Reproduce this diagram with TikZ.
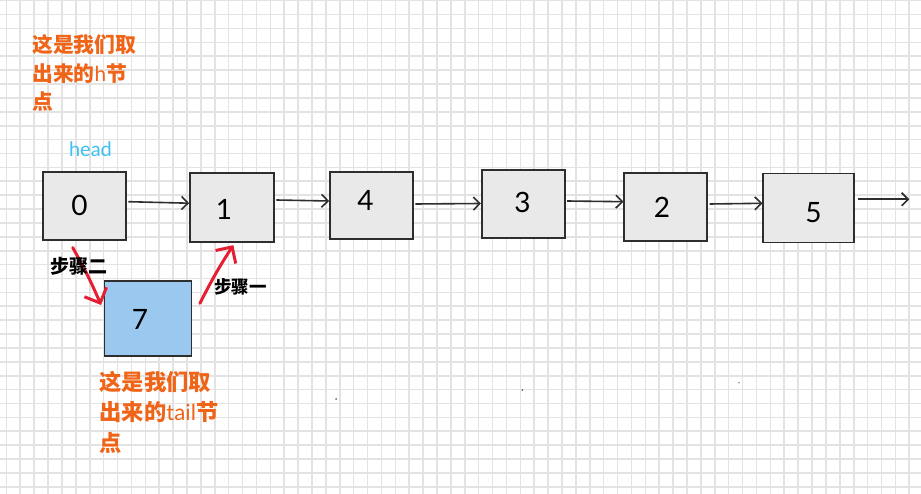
\documentclass[tikz,border=0pt]{standalone}
\usepackage{fontspec}
\setmainfont{Lato}
\newfontfamily\cjk{Noto Sans CJK SC}
\newfontfamily\hand{Lato}
\usetikzlibrary{arrows.meta}
\definecolor{gridc}{HTML}{E3E3E3}
\definecolor{boxfill}{HTML}{E9E9E9}
\definecolor{boxline}{HTML}{2E2E2E}
\definecolor{bluefill}{HTML}{9BC8EE}
\definecolor{orangetxt}{HTML}{F06418}
\definecolor{headc}{HTML}{3EC1F0}
\definecolor{redarr}{HTML}{E61E32}
\tikzset{
  gridline/.style={draw=gridc, line width=1.6pt},
  listbox/.style={draw=boxline, line width=1.7pt, fill=boxfill, rectangle, inner sep=0pt},
  tailbox/.style={listbox, fill=bluefill},
  digit/.style={font=\hand\fontsize{28}{28}\selectfont, inner sep=0pt, text=black},
  nextarr/.style={draw=boxline, line width=1.6pt, -{Straight Barb[length=6.5pt,width=13pt,line width=1.6pt]}},
  steparr/.style={draw=redarr, line width=3pt, line cap=round, -{Straight Barb[length=12pt,width=24pt,line width=3pt]}},
  orangeA/.style={font=\cjk\bfseries\fontsize{20.8}{20.8}\selectfont, text=orangetxt, inner sep=0pt, anchor=base west},
  orangeB/.style={font=\cjk\bfseries\fontsize{22.3}{22.3}\selectfont, text=orangetxt, inner sep=0pt, anchor=base west},
  steplbl/.style={font=\cjk\bfseries, text=black, inner sep=0pt, anchor=base west},
}
\begin{document}
\begin{tikzpicture}[x=1pt,y=-1pt]
\fill[white] (0,0) rectangle (921,494);
\useasboundingbox (0,0) rectangle (921,494);
\foreach \i in {0,...,66} \draw[gridline] ({6.4+\i*13.89},0) -- ({6.4+\i*13.89},494);
\foreach \j in {0,...,35} \draw[gridline] (0,{0.7+\j*13.89}) -- (921,{0.7+\j*13.89});

% orange texts
\node[orangeA] (tA1) at (32,53) {这是我们取};
\node[orangeA] (tA2) at (32,81.5) {出来的{\hand\mdseries h}节};
\node[orangeA] (tA3) at (32,110) {点};
\node[orangeB] (tB1) at (99.3,390) {这是我们取};
\node[orangeB] (tB2) at (99.3,420.5) {出来的{\hand\mdseries tail}节};
\node[orangeB] (tB3) at (99.3,451) {点};

% head label
\node[font=\hand\fontsize{20}{20}\selectfont, text=headc, inner sep=0pt] (head) at (90.5,149) {head};

% boxes
\node[listbox, minimum width=83pt, minimum height=68pt] (n0) at (84.5,206) {};
\node[listbox, minimum width=84pt, minimum height=69pt] (n1) at (232,207.5) {};
\node[listbox, minimum width=83pt, minimum height=67pt] (n4) at (371.5,205.5) {};
\node[listbox, minimum width=83pt, minimum height=68pt] (n3) at (523.3,204) {};
\node[listbox, minimum width=83pt, minimum height=68pt] (n2) at (665.8,207) {};
\node[listbox, minimum width=91pt, minimum height=69pt] (n5) at (808.8,208) {};
\node[tailbox, minimum width=87pt, minimum height=75pt] (n7) at (148,318.3) {};

% digits
\node[digit] (d0) at (79.5,205.5) {0};
\node[digit] (d1) at (224,209.5) {1};
\node[digit] (d4) at (365.5,200.5) {4};
\node[digit] (d3) at (522.5,202.5) {3};
\node[digit] (d2) at (662,207) {2};
\node[digit] (d5) at (813.5,213) {5};
\node[digit] (d7) at (140,319.5) {7};

% next arrows
\coordinate (out) at (909.3,199.3);
\draw[nextarr] ([xshift=1.5pt,yshift=4.3pt]n0.east) -- ([yshift=4.3pt]n1.west);
\draw[nextarr] ([xshift=1.5pt,yshift=7.5pt]n1.east) -- ([yshift=4.5pt]n4.west);
\draw[nextarr] ([xshift=1.5pt,yshift=1.5pt]n4.east) -- ([yshift=0.5pt]n3.west);
\draw[nextarr] ([xshift=1.5pt,yshift=3pt]n3.east) -- ([yshift=5.3pt]n2.west);
\draw[nextarr] ([xshift=1.5pt,yshift=3pt]n2.east) -- ([yshift=4.7pt]n5.west);
\draw[nextarr] ([xshift=2.4pt,yshift=8.7pt]n5.east) -- (out);

% step arrows
\draw[steparr] ([xshift=-11.8pt,yshift=-6.7pt]n0.south) to[bend left=3] ([xshift=-2.6pt,yshift=13.3pt]n7.west);
\draw[steparr] ([xshift=7.6pt,yshift=15pt]n7.east) to[bend left=3] ([xshift=1.3pt,yshift=-2.3pt]n1.south);
\node[steplbl, font=\cjk\bfseries\fontsize{19}{19}\selectfont] (s2) at (50,273.5) {步骤二};
\node[steplbl, font=\cjk\bfseries\fontsize{17.5}{17.5}\selectfont] (s1) at (214,293.5) {步骤一};

% stray dots
\fill[black!60] (336,399) circle (1pt) coordinate (dotA);
\fill[black!60] (522.3,390) circle (1pt) coordinate (dotB);
\fill[black!45] (739,382.7) circle (0.9pt) coordinate (dotC);
\end{tikzpicture}
\end{document}
